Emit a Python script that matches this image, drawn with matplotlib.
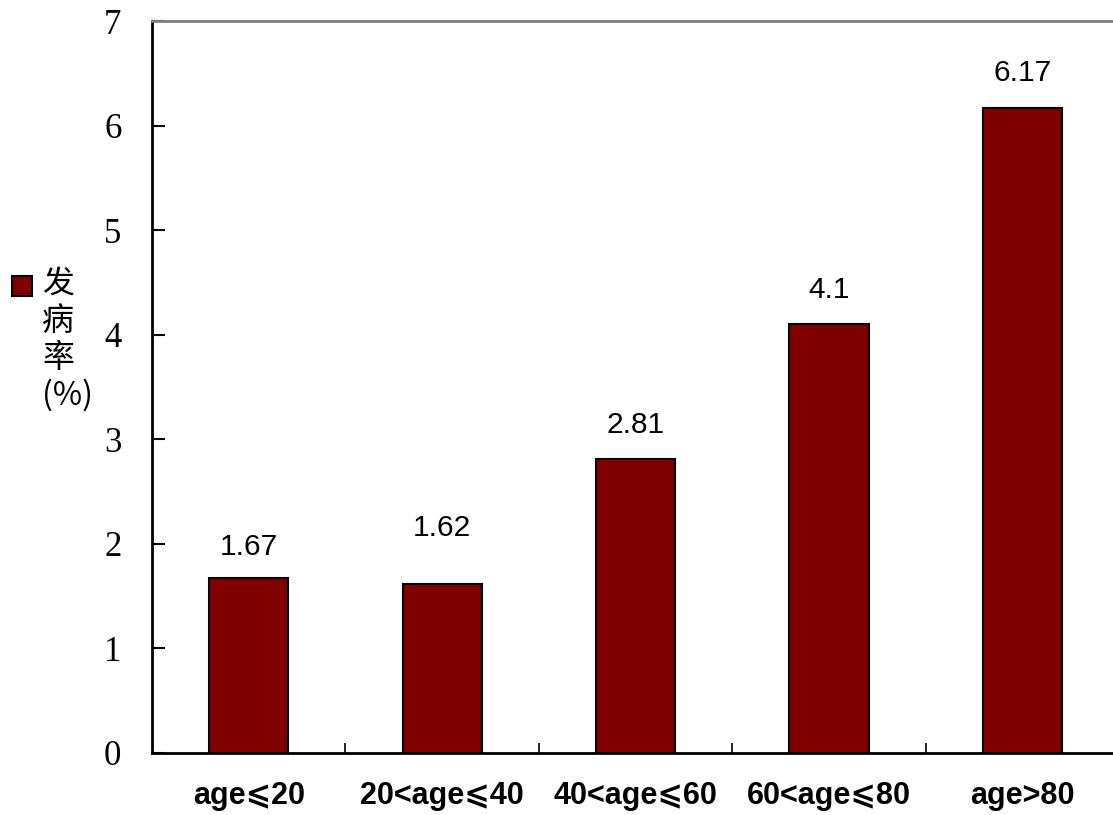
import matplotlib
matplotlib.use("Agg")
import matplotlib.pyplot as plt
from matplotlib.patches import Rectangle
from matplotlib.ticker import FixedLocator, NullFormatter

groups = ["age⩽20", "20<age⩽40", "40<age⩽60", "60<age⩽80", "age>80"]
rates = [1.67, 1.62, 2.81, 4.1, 6.17]
rate_labels = ["1.67", "1.62", "2.81", "4.1", "6.17"]
yticks = [0, 1, 2, 3, 4, 5, 6, 7]

BAR = "#800000"

fig = plt.figure(figsize=(11.13, 8.15), dpi=100)
ax = fig.add_axes([0.1366, 0.0761, 0.869, 0.898])

x = list(range(len(groups)))
ax.bar(x, rates, width=0.41, color=BAR, edgecolor="black", linewidth=1.5)

# 数值标注
lift = [0.30, 0.53, 0.33, 0.33, 0.33]
for xi, v, s, d in zip(x, rates, rate_labels, lift):
    ax.text(xi, v + d, s, ha="center", va="center", fontsize=21.5,
            family="Liberation Sans")

ax.set_xlim(-0.5, len(groups) - 0.5)
ax.set_ylim(0, 7)
ax.set_yticks(yticks)
ax.set_yticklabels([str(t) for t in yticks], family="Liberation Serif", fontsize=25)
ax.tick_params(axis="y", direction="in", length=9, width=1.5, pad=22)

ax.set_xticks(x)
ax.set_xticklabels(groups, family=["Liberation Sans", "DejaVu Sans"],
                   fontweight="bold", fontsize=22)
ax.tick_params(axis="x", which="major", length=0, pad=20)
ax.xaxis.set_minor_locator(FixedLocator([i + 0.5 for i in x[:-1]]))
ax.xaxis.set_minor_formatter(NullFormatter())
ax.tick_params(axis="x", which="minor", direction="in", length=7, width=1.2)

for side in ("left", "bottom"):
    ax.spines[side].set_linewidth(2)
    ax.spines[side].set_color("black")
ax.spines["top"].set_color("#808080")
ax.spines["top"].set_linewidth(2)
ax.spines["right"].set_visible(False)

# 图例：色块 + 竖排文字
fig.patches.append(Rectangle((12 / 1113, 1 - 296 / 815), 20 / 1113, 20 / 815,
                             transform=fig.transFigure, facecolor=BAR,
                             edgecolor="black", linewidth=1.5))
fig.text(42 / 1113, 1 - 268 / 815, "发\n病\n率\n(%)", ha="left", va="top",
         fontsize=23, linespacing=1.2,
         family=["Noto Sans CJK SC", "DejaVu Sans"])

fig.savefig("out.png", dpi=100)
